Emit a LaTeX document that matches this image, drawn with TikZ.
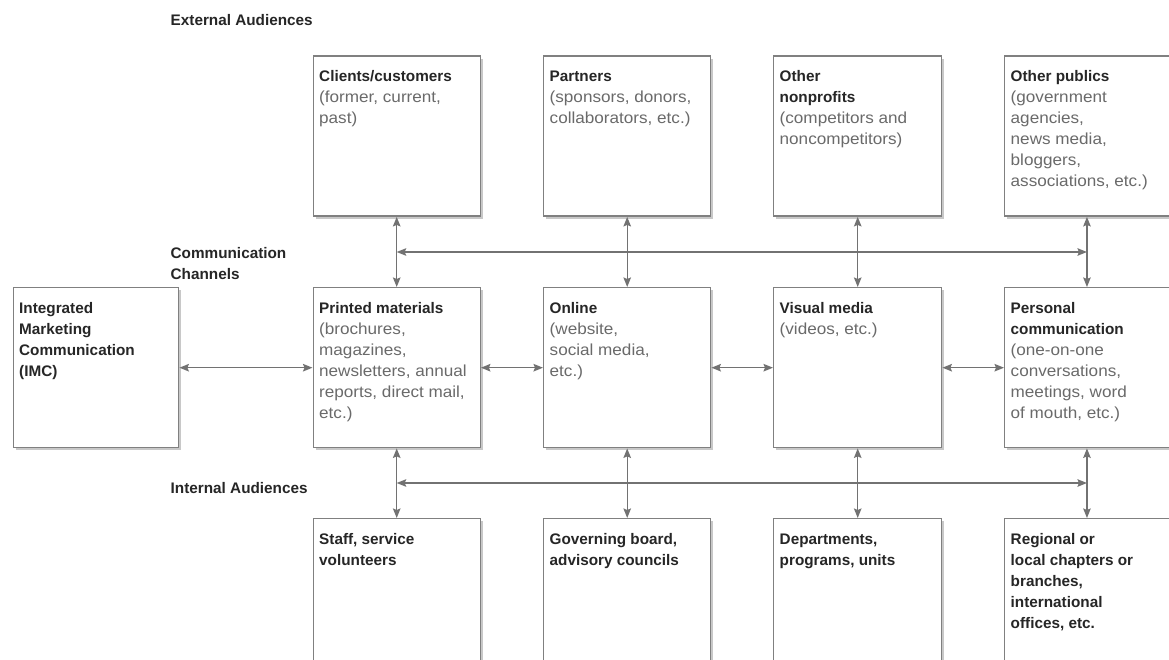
\documentclass[tikz,border=0pt]{standalone}
\usepackage{fontspec}
\setmainfont{Liberation Sans}
\newfontfamily\bodyfont[FakeStretch=1.07]{Liberation Sans}
\newfontfamily\headfont{Liberation Sans}
\usetikzlibrary{arrows.meta,shadows}
\definecolor{hdcol}{HTML}{262626}
\definecolor{bdcol}{HTML}{6A6A6A}
\definecolor{edgecol}{HTML}{808080}
\definecolor{arrcol}{HTML}{727272}
\definecolor{shadecol}{HTML}{C8C8C8}
% bold heading words inside the boxes
\newcommand\hd[1]{{\headfont\bfseries\fontsize{15.3pt}{21pt}\selectfont\color{hdcol}#1}}
\tikzset{
  card/.style={draw=edgecol, line width=1.4pt, fill=white, rectangle,
    inner sep=0pt, anchor=north west,
    drop shadow={shadow xshift=2.5pt, shadow yshift=-2.5pt, fill=shadecol, opacity=1}},
  cardtext/.style={anchor=north west, inner sep=0pt, align=left,
    font=\bodyfont\fontsize{16pt}{21pt}\selectfont, text=bdcol,
    xshift=6.5pt, yshift=-12pt},
  lbl/.style={inner sep=0pt, align=left,
    font=\headfont\bfseries\fontsize{15.3pt}{21pt}\selectfont, text=hdcol},
  arr/.style={draw=arrcol, line width=1.4pt,
    {Stealth[length=9.5pt,width=7.5pt,inset=1.5pt]}-{Stealth[length=9.5pt,width=7.5pt,inset=1.5pt]}}
}
% box with its text: name, left, top, width, height, text
\newcommand\card[6]{%
  \node[card, minimum width=#4pt, minimum height=#5pt] (#1) at (#2,#3) {};
  \node[cardtext] (#1x) at (#1.north west) {\rule{0pt}{14pt}#6};
}
\begin{document}
\begin{tikzpicture}[x=1pt,y=-1pt]
\fill[white] (0,0) rectangle (1169,660);
\clip (0,0) rectangle (1169,660);

% section labels
\node[lbl, anchor=base west] (extlbl) at (170.5,26) {External Audiences};
\node[lbl, anchor=north west] (chlbl) at (170.5,244) {\rule{0pt}{14pt}Communication\\Channels};
\node[lbl, anchor=base west] (intlbl) at (170.5,493) {Internal Audiences};

% external audiences
\card{t1}{312.5}{55.5}{167}{160}{\hd{Clients/customers}\\(former, current,\\past)}
\card{t2}{543}{55.5}{167}{160}{\hd{Partners}\\(sponsors, donors,\\collaborators, etc.)}
\card{t3}{773}{55.5}{168}{160}{\hd{Other}\\\hd{nonprofits}\\(competitors and\\noncompetitors)}
\card{t4}{1004}{55.5}{164.5}{160}{\hd{Other publics}\\(government\\agencies,\\news media,\\bloggers,\\associations, etc.)}

% communication channels
\card{imc}{12.5}{287}{165.5}{160}{\hd{Integrated}\\\hd{Marketing}\\\hd{Communication}\\\hd{(IMC)}}
\card{m1}{312.5}{287}{167}{160}{\hd{Printed materials}\\(brochures,\\magazines,\\newsletters, annual\\reports, direct mail,\\etc.)}
\card{m2}{543}{287}{167}{160}{\hd{Online}\\(website,\\social media,\\etc.)}
\card{m3}{773}{287}{168}{160}{\hd{Visual media}\\(videos, etc.)}
\card{m4}{1004}{287}{164.5}{160}{\hd{Personal}\\\hd{communication}\\(one-on-one\\conversations,\\meetings, word\\of mouth, etc.)}

% internal audiences
\card{b1}{312.5}{518}{167}{160}{\hd{Staff, service}\\\hd{volunteers}}
\card{b2}{543}{518}{167}{160}{\hd{Governing board,}\\\hd{advisory councils}}
\card{b3}{773}{518}{168}{160}{\hd{Departments,}\\\hd{programs, units}}
\card{b4}{1004}{518}{164.5}{160}{\hd{Regional or}\\\hd{local chapters or}\\\hd{branches,}\\\hd{international}\\\hd{offices, etc.}}

% connectors
\coordinate (upY) at (0,252);
\coordinate (loY) at (0,483);
\foreach \i in {1,2,3,4}{
  \draw[arr] (t\i.south) -- (m\i.north);
  \draw[arr] (m\i.south) -- (b\i.north);
}
\draw[arr] (t1.south |- upY) -- (t4.south |- upY);
\draw[arr] (m1.south |- loY) -- (m4.south |- loY);
\draw[arr] (imc.east) -- (m1.west);
\draw[arr] (m1.east) -- (m2.west);
\draw[arr] (m2.east) -- (m3.west);
\draw[arr] (m3.east) -- (m4.west);
\end{tikzpicture}
\end{document}
